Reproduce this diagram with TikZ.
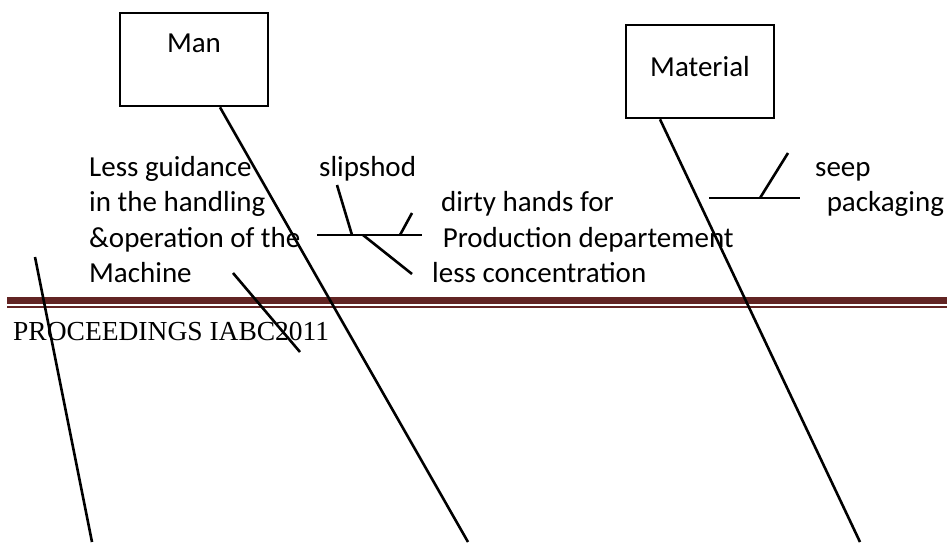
\documentclass[tikz,border=0pt]{standalone}
\usepackage{fontspec}
\setmainfont{Carlito}
\newfontfamily\headfont{Liberation Serif}
\usetikzlibrary{positioning,calc}
\definecolor{maroon}{RGB}{98,36,35}

\begin{document}
\begin{tikzpicture}[x=1pt, y=-1pt,
  box/.style={draw, line width=2.6pt, rectangle, minimum width=148pt, minimum height=93pt},
  bone/.style={line width=2.6pt},
  label/.style={inner sep=0pt, anchor=base west, align=left, font=\fontsize{29}{35.5}\selectfont}]
\useasboundingbox (0,0) rectangle (947,542);
% category boxes
\node[box] (man) at (194,59.5) {};
\node[box] (material) at (700,71.5) {};
\node[inner sep=0pt, anchor=base, font=\fontsize{29}{33}\selectfont] (man_txt) at (194,52) {Man};
\node[inner sep=0pt, anchor=base, font=\fontsize{29}{33}\selectfont] (material_txt) at (700,76) {Material};

% causes (anchored on the baseline of the last line)
\node[label] (guidance) at (89,282.5) {Less guidance\\in the handling\\\&operation of the\\Machine};
\node[label] (slipshod) at (319,176) {slipshod};
\node[label] (dirty) at (432,282.5) {\hspace*{9pt}dirty hands for\\\hspace*{4pt} Production departement\\less concentration};
\node[label] (seep) at (815,211.5) {seep\\\hspace*{5pt} packaging};

% page header
\fill[maroon] (7,297.3) rectangle (947,304.3);
\fill[maroon] (7,306.3) rectangle (947,308.3);
\node[inner sep=0pt, anchor=base west, font=\headfont\fontsize{27.5}{30}\selectfont] (header) at (13,340) {PROCEEDINGS IABC2011};

% main bones
\coordinate (man_end) at (468,542);
\coordinate (material_end) at (860,542);
\draw[bone] ([xshift=26pt]man.south) -- (man_end);
\draw[bone] ([xshift=-40pt]material.south) -- (material_end);
\coordinate (left_top) at (35,257);
\coordinate (left_end) at (92,542);
\draw[bone] (left_top) -- (left_end);
\coordinate (mach_a) at (233,273);
\coordinate (mach_b) at (300,352);
\draw[bone] (mach_a) -- (mach_b);

% slipshod branch
\coordinate (br_l) at (317,235);
\coordinate (br_r) at (422,235);
\draw[bone] (br_l) -- (br_r);
\coordinate (t1) at (337,185);
\coordinate (t2) at (412,213);
\coordinate (t3) at (412,274);
\draw[bone] (t1) -- (br_l -| 352,0);
\draw[bone] (t2) -- (br_l -| 400,0);
\draw[bone] (br_l -| 363,0) -- (t3);

% seep branch
\coordinate (sb_l) at (709,198);
\coordinate (sb_r) at (800,198);
\coordinate (sb_t) at (788,153);
\draw[bone] (sb_l) -- (sb_r);
\draw[bone] (sb_l -| 760,0) -- (sb_t);
\end{tikzpicture}
\end{document}
